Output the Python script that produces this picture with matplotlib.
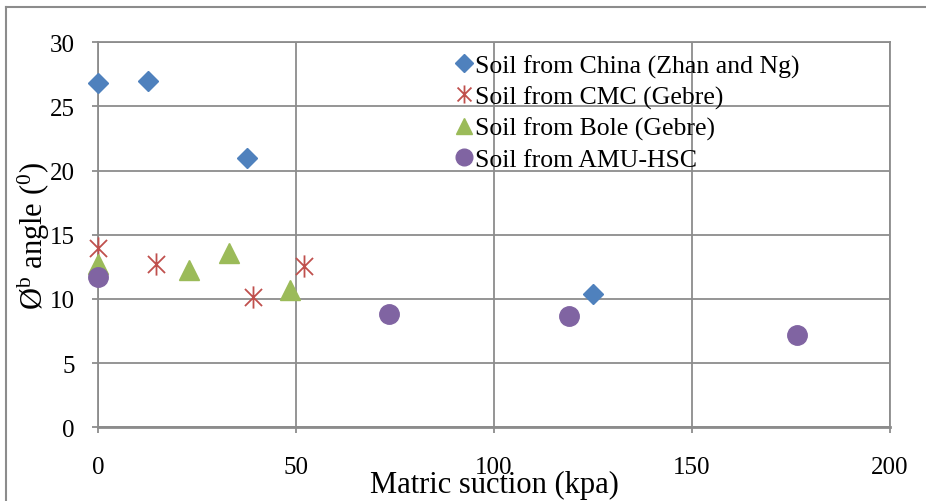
import numpy as np
import matplotlib.pyplot as plt
from matplotlib.path import Path
from matplotlib.lines import Line2D

plt.rcParams["font.family"] = ["Liberation Serif", "DejaVu Serif"]
plt.rcParams["mathtext.fontset"] = "custom"
plt.rcParams["mathtext.rm"] = "Liberation Serif"

china_x = [0, 12.5, 37.5, 125]
china_y = [26.8, 27.0, 21.0, 10.4]
cmc_x = [0, 14.6, 39, 52]
cmc_y = [13.95, 12.75, 10.15, 12.55]
bole_x = [0, 23, 33, 48.5]
bole_y = [12.7, 12.25, 13.6, 10.7]
amu_x = [0, 73.5, 119, 176.5]
amu_y = [11.7, 8.8, 8.65, 7.2]

labels = ["Soil from China (Zhan and Ng)", "Soil from CMC (Gebre)",
          "Soil from Bole (Gebre)", "Soil from AMU-HSC"]
xticks = [0, 50, 100, 150, 200]
yticks = [0, 5, 10, 15, 20, 25, 30]

# x with a vertical bar, like the Excel "star" marker
star = Path([(-1, -1), (1, 1), (-1, 1), (1, -1), (0, -1.3), (0, 1.3)],
            [Path.MOVETO, Path.LINETO, Path.MOVETO, Path.LINETO, Path.MOVETO, Path.LINETO])

grid_c = "#8c8c8c"

fig = plt.figure(figsize=(9.26, 5.02), dpi=100)
ax = fig.add_axes([0.106, 0.147, 0.855, 0.767])

ax.plot(china_x, china_y, "D", color="#4F81BD", ms=10, mec="#4F81BD", clip_on=False, zorder=5, label=labels[0])
ax.plot(cmc_x, cmc_y, ls="none", marker=star, color="#C0504D", ms=16, mew=1.3, clip_on=False, zorder=5, label=labels[1])
ax.plot(bole_x, bole_y, "^", color="#9BBB59", ms=14, clip_on=False, zorder=5, label=labels[2])
ax.plot(amu_x, amu_y, "o", color="#8064A2", ms=14, clip_on=False, zorder=5, label=labels[3])

ax.set_xlim(0, 200)
ax.set_ylim(0, 30)
ax.set_xticks(xticks)
ax.set_yticks(yticks)
ax.grid(True, color=grid_c, lw=1.3)
for s in ax.spines.values():
    s.set_color(grid_c)
    s.set_linewidth(1.3)
ax.spines["bottom"].set_linewidth(2)
ax.tick_params(axis="both", colors=grid_c, labelcolor="black", labelsize=18, length=4, width=1.3)
ax.tick_params(axis="y", pad=13)
ax.tick_params(axis="x", pad=17)

ax.set_xlabel("Matric suction (kpa)", fontsize=22, labelpad=-6)
ax.set_ylabel(r"Ø$^{\mathrm{b}}$ angle ($^{0}$)", fontsize=22, labelpad=-2)

handles = [
    Line2D([], [], ls="none", marker="D", color="#4F81BD", ms=9),
    Line2D([], [], ls="none", marker=star, color="#C0504D", ms=13, mew=1.3),
    Line2D([], [], ls="none", marker="^", color="#9BBB59", ms=12),
    Line2D([], [], ls="none", marker="o", color="#8064A2", ms=12),
]
ax.legend(handles, labels, loc="upper left", bbox_to_anchor=(0.436, 0.995), frameon=False,
          fontsize=18.5, handlelength=0.8, handletextpad=0.05, labelspacing=0.3, borderaxespad=0)

# outer chart border
fig.add_artist(Line2D([0.006, 0.006], [0, 0.984], color=grid_c, lw=1.5))
fig.add_artist(Line2D([0.006, 1], [0.984, 0.984], color=grid_c, lw=1.5))

fig.savefig("out.png", dpi=100)
